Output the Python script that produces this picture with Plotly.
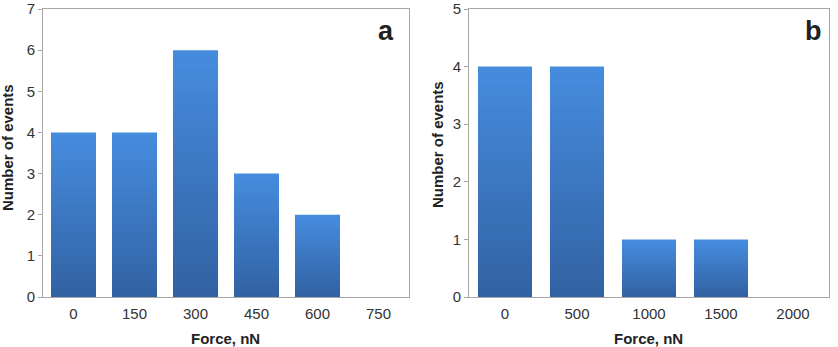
import plotly.graph_objects as go

W, H = 838, 347

# Panel a data
cats_a = ["0", "150", "300", "450", "600", "750"]
vals_a = [4, 4, 6, 3, 2, 0]
# Panel b data
cats_b = ["0", "500", "1000", "1500", "2000"]
vals_b = [4, 4, 1, 1, 0]

yticks_a = [0, 1, 2, 3, 4, 5, 6, 7]
yticks_b = [0, 1, 2, 3, 4, 5]

TOP = (70, 140, 222)
BOT = (50, 98, 163)
N_LAYERS = 40

fig = go.Figure()


def mix(t):
    r = round(TOP[0] + (BOT[0] - TOP[0]) * t)
    g = round(TOP[1] + (BOT[1] - TOP[1]) * t)
    b = round(TOP[2] + (BOT[2] - TOP[2]) * t)
    return f"rgb({r},{g},{b})"


def add_bars(cats, vals, xa, ya, bw):
    for i in range(N_LAYERS):
        frac = 1 - i / N_LAYERS
        fig.add_trace(go.Bar(
            x=cats, y=[v * frac for v in vals],
            xaxis=xa, yaxis=ya,
            marker=dict(color=mix(i / (N_LAYERS - 1)), line=dict(width=0)),
            width=bw, showlegend=False, hoverinfo="skip",
        ))


add_bars(cats_a, vals_a, "x", "y", 45 / 61)
add_bars(cats_b, vals_b, "x2", "y2", 54 / 72)

ydom = [1 - 297 / H, 1 - 9 / H]
axis_common = dict(showgrid=False, zeroline=False, linecolor="#a6a6a6",
                   linewidth=1, mirror=True, showline=True, automargin=False,
                   ticklabeloverflow="allow",
                   tickfont=dict(family="Liberation Sans, Arial", size=15, color="#333333"))

fig.update_layout(
    width=W, height=H,
    margin=dict(l=0, r=0, t=0, b=0, autoexpand=False),
    paper_bgcolor="white", plot_bgcolor="white",
    barmode="overlay",
    xaxis=dict(domain=[43 / W, 409 / W], type="category", categoryorder="array",
               categoryarray=cats_a, ticks="", ticklabelstandoff=3, anchor="y", **axis_common),
    yaxis=dict(domain=ydom, range=[0, 7], tickvals=yticks_a, ticks="outside",
               ticklen=4, tickcolor="#a6a6a6", anchor="x", **axis_common),
    xaxis2=dict(domain=[469 / W, 829 / W], type="category", categoryorder="array",
                categoryarray=cats_b, ticks="", ticklabelstandoff=3, anchor="y2", **axis_common),
    yaxis2=dict(domain=ydom, range=[0, 5], tickvals=yticks_b, ticks="outside",
                ticklen=4, tickcolor="#a6a6a6", anchor="x2", **axis_common),
)


def ann(text, px, py, size, angle=0):
    fig.add_annotation(text=text, xref="paper", yref="paper",
                       x=px / W, y=1 - py / H, showarrow=False,
                       xanchor="center", yanchor="middle", textangle=angle,
                       font=dict(family="Liberation Sans, Arial", size=size, color="#222222"))


ann("<b>Force, nN</b>", 225, 338, 15)
ann("<b>Force, nN</b>", 648, 338, 15)
ann("<b>Number of events</b>", 8, 148, 15, -90)
ann("<b>Number of events</b>", 437, 145, 15, -90)
ann("<b>a</b>", 386, 31, 27)
ann("<b>b</b>", 813, 31, 27)

fig.write_html("out.html")
